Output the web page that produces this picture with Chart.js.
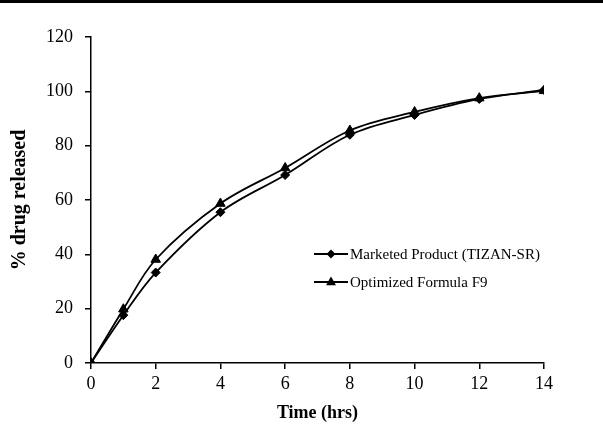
<!DOCTYPE html>
<html>
<head>
<meta charset="utf-8">
<script src="https://cdn.jsdelivr.net/npm/chart.js@4/dist/chart.umd.min.js"></script>
<style>
  html, body { margin: 0; padding: 0; background: #fff; }
  #wrap { width: 603px; height: 427px; position: relative; }
</style>
</head>
<body>
<div id="wrap"><canvas id="release-chart" width="603" height="427"></canvas></div>
<script>
// data ============================================================
const hours = [0, 1, 2, 4, 6, 8, 10, 12, 14];
const marketed = [0, 17.6, 33.3, 55.5, 69.2, 84.0, 91.3, 97.2, 100.5];
const optimized = [0, 19.8, 38.1, 58.7, 71.8, 85.6, 92.4, 97.5, 100.2];
const xTicks = [0, 2, 4, 6, 8, 10, 12, 14];
const yTicks = [0, 20, 40, 60, 80, 100, 120];

const serif = '"Liberation Serif", "Times New Roman", serif';

function toPoints(values) {
  return hours.map((h, i) => ({ x: h, y: values[i] }));
}

// legend with line + marker, drawn inside the plot
function drawMarker(ctx, style, cx, cy, r) {
  ctx.beginPath();
  if (style === 'rectRot') {
    ctx.moveTo(cx, cy - r);
    ctx.lineTo(cx + r, cy);
    ctx.lineTo(cx, cy + r);
    ctx.lineTo(cx - r, cy);
  } else {
    ctx.moveTo(cx, cy - r);
    ctx.lineTo(cx + r * 0.9, cy + r * 0.6);
    ctx.lineTo(cx - r * 0.9, cy + r * 0.6);
  }
  ctx.closePath();
  ctx.fill();
}

const innerLegend = {
  id: 'innerLegend',
  beforeDraw(chart) {
    const ctx = chart.ctx;
    ctx.save();
    ctx.fillStyle = '#000';
    ctx.fillRect(0, 0, chart.width, 3);
    ctx.restore();
  },
  afterDatasetsDraw(chart) {
    const { ctx, chartArea } = chart;
    const x = chartArea.left + 223;
    const y0 = chartArea.top + 217;
    chart.data.datasets.forEach((ds, i) => {
      const y = y0 + i * 28;
      ctx.save();
      ctx.strokeStyle = '#000';
      ctx.fillStyle = '#000';
      ctx.lineWidth = 1.8;
      ctx.beginPath();
      ctx.moveTo(x, y);
      ctx.lineTo(x + 34, y);
      ctx.stroke();
      drawMarker(ctx, ds.pointStyle, x + 17, y, ds.pointRadius);
      ctx.font = '15px ' + serif;
      ctx.textBaseline = 'middle';
      ctx.fillText(ds.label, x + 36, y + 1);
      ctx.restore();
    });
  }
};

const config = {
  type: 'line',
  data: {
    datasets: [
      {
        label: 'Marketed Product (TIZAN-SR)',
        data: toPoints(marketed),
        borderColor: '#000',
        backgroundColor: '#000',
        borderWidth: 1.8,
        pointStyle: 'rectRot',
        pointRadius: 4.5,
        pointBorderWidth: 1,
        tension: 0.35,
      },
      {
        label: 'Optimized Formula F9',
        data: toPoints(optimized),
        borderColor: '#000',
        backgroundColor: '#000',
        borderWidth: 1.8,
        pointStyle: 'triangle',
        pointRadius: 5.5,
        pointBorderWidth: 1,
        tension: 0.35,
      },
    ],
  },
  options: {
    responsive: false,
    animation: false,
    layout: { padding: { top: 37, right: 59, left: 0, bottom: 0 } },
    plugins: {
      legend: { display: false },
      tooltip: { enabled: false },
    },
    scales: {
      x: {
        type: 'linear',
        min: 0,
        max: 14,
        afterBuildTicks: (scale) => { scale.ticks = xTicks.map(v => ({ value: v })); },
        afterFit: (scale) => { scale.height = 64; },
        grid: { drawOnChartArea: false, drawTicks: true, tickLength: 6, color: '#000', lineWidth: 1.5 },
        border: { display: true, color: '#000', width: 1.5 },
        ticks: { color: '#000', font: { family: serif, size: 18 }, padding: 4 },
        title: {
          display: true,
          text: 'Time (hrs)',
          color: '#000',
          font: { family: serif, size: 18, weight: 'bold' },
          padding: { top: 0, bottom: 3 },
        },
      },
      y: {
        min: 0,
        max: 120,
        afterBuildTicks: (scale) => { scale.ticks = yTicks.map(v => ({ value: v })); },
        afterFit: (scale) => { scale.width = 91; },
        grid: { drawOnChartArea: false, drawTicks: true, tickLength: 6, color: '#000', lineWidth: 1.5 },
        border: { display: true, color: '#000', width: 1.5 },
        ticks: { color: '#000', font: { family: serif, size: 18 }, padding: 12 },
        title: {
          display: true,
          text: '% drug released',
          color: '#000',
          font: { family: serif, size: 20, weight: 'bold' },
          padding: { top: 8, bottom: 0 },
        },
      },
    },
  },
  plugins: [innerLegend],
};

const releaseChart = new Chart(document.getElementById('release-chart'), config);
</script>
</body>
</html>
